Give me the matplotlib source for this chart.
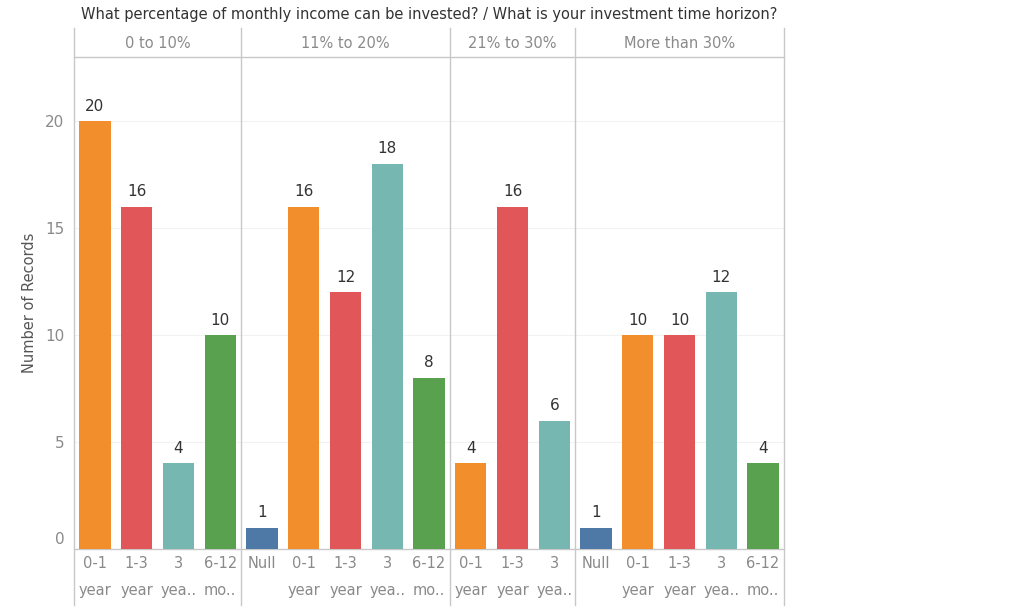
import matplotlib
matplotlib.use("Agg")
import matplotlib.pyplot as plt
import matplotlib.transforms as mtransforms
from matplotlib.lines import Line2D

# Income share groups and the time-horizon bars inside each group
groups = ["0 to 10%", "11% to 20%", "21% to 30%", "More than 30%"]
group_horizons = [
    ["0-1 year", "1-3 year", "3 yea..", "6-12 mo.."],
    ["Null", "0-1 year", "1-3 year", "3 yea..", "6-12 mo.."],
    ["0-1 year", "1-3 year", "3 yea.."],
    ["Null", "0-1 year", "1-3 year", "3 yea..", "6-12 mo.."],
]
group_counts = [
    [20, 16, 4, 10],
    [1, 16, 12, 18, 8],
    [4, 16, 6],
    [1, 10, 10, 12, 4],
]
horizon_colors = {
    "Null": "#4e79a7",
    "0-1 year": "#f28e2b",
    "1-3 year": "#e15759",
    "3 yea..": "#76b7b2",
    "6-12 mo..": "#59a14f",
}
y_ticks = [0, 5, 10, 15, 20]

W, H = 1023, 616
fig = plt.figure(figsize=(W / 100, H / 100), dpi=100)
left, right, bottom, top = 74, 784, 549, 57
ax = fig.add_axes([left / W, 1 - bottom / H, (right - left) / W, (bottom - top) / H])

grey = "#c8c8c8"
text_grey = "#8a8a8a"
dark = "#333333"

pos = 0
xs, heights, colors, tick_labels = [], [], [], []
separators = []
centers = []
for g, hz, cnt in zip(groups, group_horizons, group_counts):
    start = pos
    for h, c in zip(hz, cnt):
        xs.append(pos)
        heights.append(c)
        colors.append(horizon_colors[h])
        tick_labels.append(h)
        pos += 1
    centers.append((start + pos - 1) / 2)
    separators.append(pos - 0.5)

bars = ax.bar(xs, heights, width=0.75, color=colors, zorder=3)
for x, v in zip(xs, heights):
    ax.text(x, v + 0.35, str(v), ha="center", va="bottom", fontsize=11, color=dark)

ax.set_xlim(-0.5, pos - 0.5)
ax.set_ylim(0, 23.0)
ax.set_yticks(y_ticks)
ax.set_yticklabels([str(t) for t in y_ticks])
ax.tick_params(axis="y", length=0, labelsize=11, labelcolor=text_grey, pad=7)
# lift the zero label above the baseline
zero_lab = ax.get_yticklabels()[0]
zero_lab.set_transform(zero_lab.get_transform() +
                       mtransforms.ScaledTranslation(0, 11 / 100, fig.dpi_scale_trans))
ax.set_xticks(xs)
ax.set_xticklabels([t.replace(" ", "\n") for t in tick_labels], linespacing=2.0)
ax.tick_params(axis="x", length=0, labelsize=10.5, labelcolor=text_grey, pad=5)

for t in y_ticks[1:]:
    ax.axhline(t, color="#f2f2f2", lw=0.8, zorder=1)

for s in ["top", "right", "left"]:
    ax.spines[s].set_visible(False)
ax.spines["bottom"].set_color(grey)
ax.spines["bottom"].set_linewidth(1)

ax.set_ylabel("Number of Records", fontsize=10.5, color="#555555", labelpad=6)

# frame lines in figure pixel coordinates
def vline(x, y0, y1):
    fig.add_artist(Line2D([x / W, x / W], [1 - y0 / H, 1 - y1 / H],
                          transform=fig.transFigure, color=grey, lw=1))

def hline(y, x0, x1):
    fig.add_artist(Line2D([x0 / W, x1 / W], [1 - y / H, 1 - y / H],
                          transform=fig.transFigure, color=grey, lw=1))

slot = (right - left) / pos
vline(left, 28, 605)
for s in separators:
    vline(left + (s + 0.5) * slot, 28, 605)
hline(top, left, right)

for g, c in zip(groups, centers):
    fig.text((left + (c + 0.5) * slot) / W, 1 - 43 / H, g, ha="center", va="center",
             fontsize=10.5, color=text_grey)

fig.text((left + right) / 2 / W, 1 - 15 / H,
         "What percentage of monthly income can be invested? / What is your investment time horizon?",
         ha="center", va="center", fontsize=10.5, color=dark)

fig.savefig("out.png", dpi=100, facecolor="white")
